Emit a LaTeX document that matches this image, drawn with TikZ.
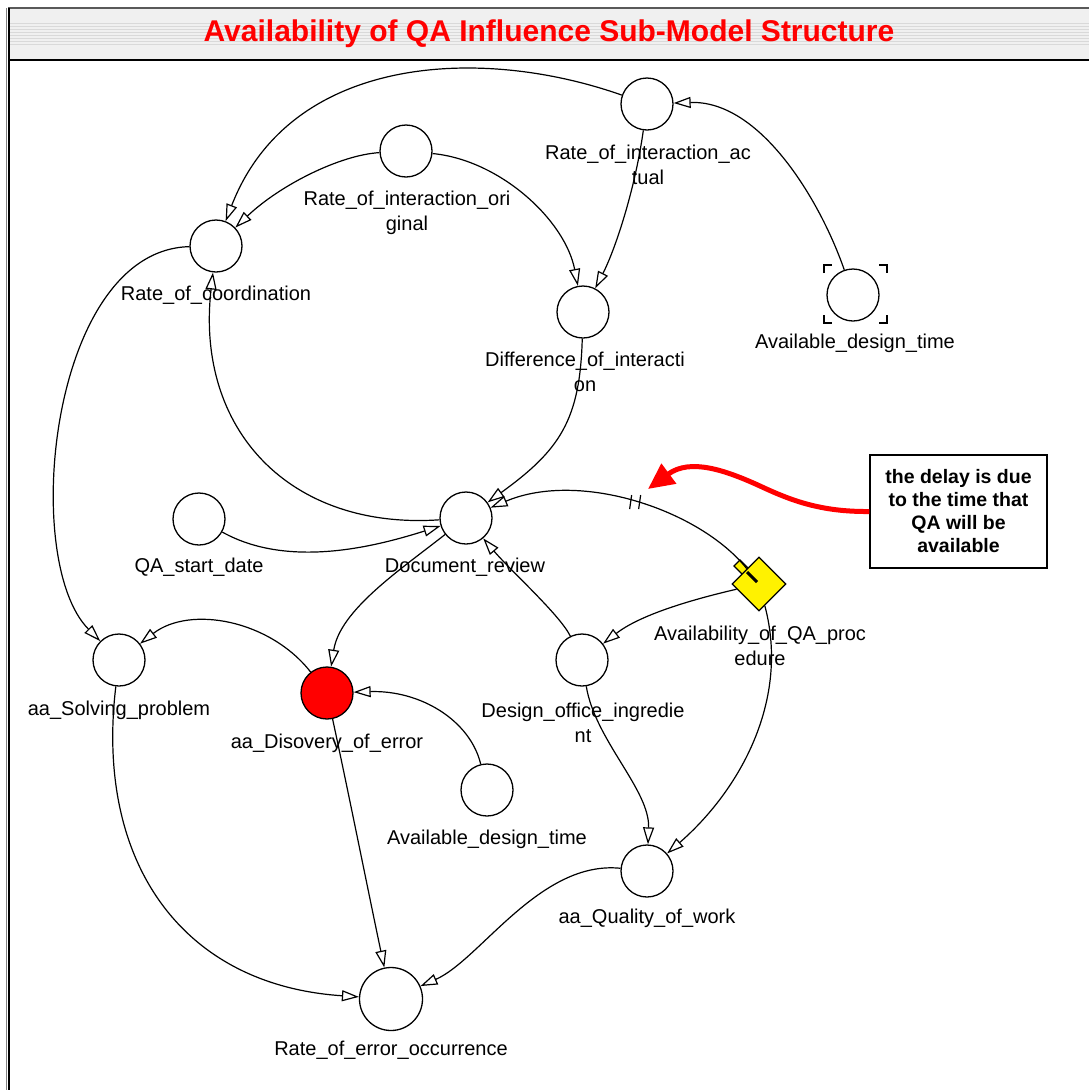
\documentclass[tikz,border=0pt]{standalone}
\usepackage{fontspec}
\setmainfont{Liberation Sans}
\usetikzlibrary{arrows.meta,shapes.geometric}

\tikzset{
  var/.style={circle, draw, line width=1.3pt, minimum size=52pt, inner sep=0pt, fill=white},
  bigvar/.style={var, minimum size=63pt},
  lab/.style={font=\fontsize{20}{25}\selectfont, align=center, inner sep=0pt},
  flow/.style={line width=1.2pt, -{Triangle[open, length=17pt, width=11pt, line width=1.2pt]}},
  plain/.style={line width=1.2pt},
  bracket/.style={line width=1.4pt},
  redarrow/.style={draw=red, line width=5pt, -{Triangle[length=26pt, width=24pt]}},
  notebox/.style={draw, line width=1.3pt, fill=white, minimum width=177pt, minimum height=113pt,
    align=center, font=\fontsize{19.5}{23}\selectfont\bfseries, inner sep=0pt},
  titletext/.style={text=red, font=\fontsize{30}{36}\selectfont\bfseries, inner sep=0pt}
}

\begin{document}
\begin{tikzpicture}[x=1pt, y=1pt]
\useasboundingbox (0,0) rectangle (1089,-1090);

% frame and striped title bar
\fill[gray!12] (8,-8) rectangle (1089,-60);
\foreach \yy in {23,26,...,44} {
  \draw[gray!30, line width=1pt] (9,-\yy) -- (1089,-\yy);
}
\draw[gray!70!black, line width=2pt] (8,-8) -- (1089,-8);
\draw[line width=2.5pt] (8,-60) -- (1089,-60);
\draw[gray, line width=1pt] (6.5,-8) -- (6.5,-1090);
\draw[line width=2pt] (9,-8) -- (9,-1090);
\node[titletext] (ttl) at (549,-34) {Availability of QA Influence Sub-Model Structure};

% variables
\node[var] (ria)   at (647,-104) {};
\node[var] (rio)   at (406,-151) {};
\node[var] (coord) at (216,-246) {};
\node[var] (diff)  at (583,-312) {};
\node[var] (adta)  at (853,-295) {};
\node[var] (qasd)  at (199,-519) {};
\node[var] (doc)   at (466,-518) {};
\node[var] (solv)  at (119,-660) {};
\node[var, fill=red] (disc) at (327,-693) {};
\node[var] (dsgn)  at (582,-660) {};
\node[var] (adtb)  at (487,-790) {};
\node[var] (qual)  at (647,-871) {};
\node[bigvar] (reo) at (391,-999) {};

% corner brackets of the top design-time variable
\draw[bracket] (824,-273) -- (824,-265) -- (832,-265);
\draw[bracket] (879,-265) -- (887,-265) -- (887,-273);
\draw[bracket] (824,-315) -- (824,-323) -- (832,-323);
\draw[bracket] (879,-323) -- (887,-323) -- (887,-315);

% QA procedure (diamond with tab)
\draw[line width=1.2pt, fill=yellow] (734,-566) -- (740,-560) -- (751,-571) -- (745,-577) -- cycle;
\node[diamond, aspect=1, draw, line width=1.3pt, fill=yellow, minimum width=54pt, minimum height=54pt, inner sep=0pt] (avail) at (759,-584) {};
\draw[line width=3pt] ([shift={(-12,12)}]avail.center) -- ([shift={(-2,2)}]avail.center);

% labels
\node[lab] (ria-l)   at (648,-164.5) {Rate\_of\_interaction\_ac\\tual};
\node[lab] (rio-l)   at (407,-212.5) {Rate\_of\_interaction\_ori\\ginal};
\node[lab] (coord-l) at (216,-295) {Rate\_of\_coordination};
\node[lab] (diff-l)  at (585,-371.5) {Difference\_of\_interacti\\on};
\node[lab] (adta-l)  at (855,-343) {Available\_design\_time};
\node[lab] (qasd-l)  at (199,-567) {QA\_start\_date};
\node[lab] (doc-l)   at (465,-567) {Document\_review};
\node[lab] (avail-l) at (760,-645.5) {Availability\_of\_QA\_proc\\edure};
\node[lab] (solv-l)  at (119,-710) {aa\_Solving\_problem};
\node[lab] (disc-l)  at (327,-743) {aa\_Disovery\_of\_error};
\node[lab] (dsgn-l)  at (583,-722.5) {Design\_office\_ingredie\\nt};
\node[lab] (adtb-l)  at (487,-839) {Available\_design\_time};
\node[lab] (qual-l)  at (647,-918) {aa\_Quality\_of\_work};
\node[lab] (reo-l)   at (391,-1050) {Rate\_of\_error\_occurrence};

% links
\draw[flow] (ria) .. controls (480,-45) and (290,-55) .. (coord);
\draw[flow] (rio) .. controls (340,-155) and (280,-185) .. (coord);
\draw[flow] (rio) .. controls (500,-160) and (565,-220) .. (diff);
\draw[flow] (ria) .. controls (635,-190) and (615,-250) .. (diff);
\draw[flow] (adta) .. controls (820,-200) and (760,-100) .. (ria);
\draw[flow] (diff) .. controls (580,-420) and (560,-450) .. (doc);
\draw[flow] (doc) .. controls (290,-530) and (195,-430) .. (coord);
\draw[flow] (qasd) .. controls (290,-570) and (380,-545) .. (doc);
\draw[flow] (coord) .. controls (50,-250) and (20,-560) .. (solv);
\draw[flow] (doc) .. controls (400,-570) and (340,-610) .. (disc);
\draw[flow] (dsgn) .. controls (560,-615) and (510,-570) .. (doc);
\draw[flow] (avail) .. controls (690,-600) and (640,-615) .. (dsgn);
\draw[flow] (avail) .. controls (700,-510) and (580,-470) .. coordinate[pos=0.5] (dly) (doc);
\draw[plain] ([shift={(-5,-7)}]dly) -- ([shift={(-3,7)}]dly);
\draw[plain] ([shift={(4,-7)}]dly) -- ([shift={(6,7)}]dly);
\draw[flow] (disc) .. controls (270,-620) and (190,-605) .. (solv);
\draw[flow] (adtb) .. controls (470,-720) and (420,-690) .. (disc);
\draw[flow] (dsgn) .. controls (595,-740) and (650,-790) .. (qual);
\draw[flow] (avail) .. controls (790,-700) and (740,-790) .. (qual);
\draw[flow] (disc) .. controls (350,-800) and (370,-900) .. (reo);
\draw[flow] (solv) .. controls (95,-860) and (180,-985) .. (reo);
\draw[flow] (qual) .. controls (540,-860) and (480,-960) .. (reo);

% annotation
\node[notebox] (note) at (958.5,-511.5) {the delay is due\\to the time that\\QA will be\\available};
\coordinate (anntip) at (648,-489);
\draw[redarrow] (note.west) .. controls (820,-512) and (790,-500) .. (760,-486)
  .. controls (725,-470) and (690,-458) .. (anntip);
\end{tikzpicture}
\end{document}
